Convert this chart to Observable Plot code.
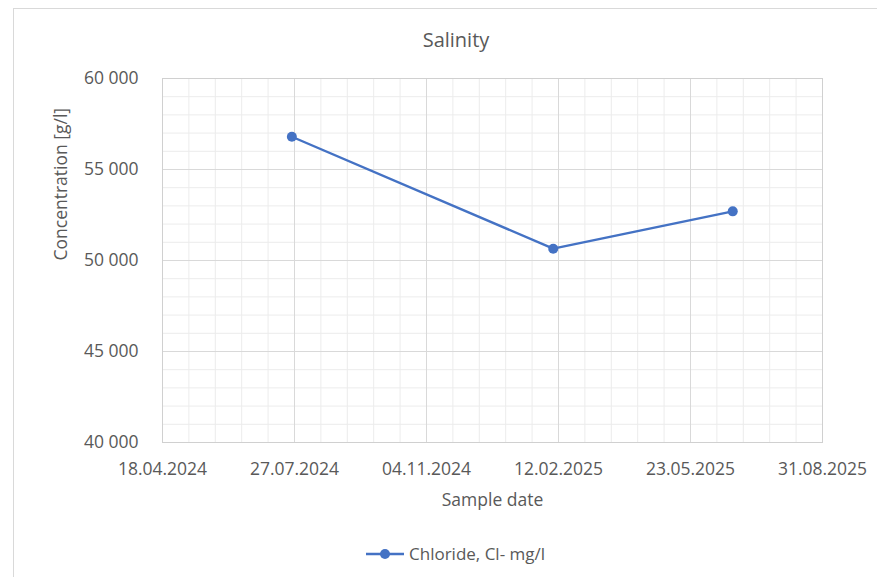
<!DOCTYPE html>
<html>
<head>
<meta charset="utf-8">
<script src="https://cdn.jsdelivr.net/npm/d3@7"></script>
<script src="https://cdn.jsdelivr.net/npm/@observablehq/plot@0.6"></script>
<style>
  html, body { margin: 0; padding: 0; background: #fff; }
  #wrap { position: relative; width: 877px; height: 577px; overflow: hidden; background: #fff; font-family: "Open Sans", sans-serif; color: #595959; }
  #border { position: absolute; left: 13px; top: 8px; width: 1000px; height: 1000px; border-left: 1px solid #d9d9d9; border-top: 1px solid #d9d9d9; }
  #chart { position: absolute; left: 0; top: 0; }
  #title { position: absolute; left: 0; top: 27px; width: 912px; text-align: center; font-size: 20px; line-height: 26px; }
  #legend { position: absolute; left: 365px; top: 543px; height: 22px; display: flex; align-items: center; font-size: 17px; line-height: 22px; white-space: nowrap; }
  #legend svg { margin-right: 4px; }
</style>
</head>
<body>
<div id="wrap">
  <div id="border"></div>
  <div id="chart"></div>
  <div id="title">Salinity</div>
  <div id="legend"></div>
</div>
<script>
// ---- data ----
const sampleDates = ["2024-07-25", "2025-02-08", "2025-06-24"];
const chlorideValues = [56800, 50650, 52700];
const seriesName = "Chloride, Cl- mg/l";
const xTickDates = ["2024-04-18", "2024-07-27", "2024-11-04", "2025-02-12", "2025-05-23", "2025-08-31"];
const yTickValues = [40000, 45000, 50000, 55000, 60000];
const yAxisLabel = "Concentration [g/l]";
const xAxisLabel = "Sample date";

const rows = sampleDates.map((d, i) => ({ date: new Date(d), value: chlorideValues[i] }));
const xMajor = xTickDates.map(d => new Date(d));
const xMinor = d3.utcDay.range(xMajor[0], d3.utcDay.offset(xMajor[xMajor.length - 1], 1), 20);
const yMinor = d3.range(40000, 60001, 1000);

const fmtDate = d3.utcFormat("%d.%m.%Y");
const locale = d3.formatLocale({ decimal: ",", thousands: "\u00a0", grouping: [3], currency: ["", ""] });
const fmtNum = locale.format(",.0f");

const colour = "#4472C4";
const textColour = "#595959";

const chart = Plot.plot({
  width: 877,
  height: 577,
  marginLeft: 162,
  marginRight: 55,
  marginTop: 78,
  marginBottom: 135,
  style: { background: "transparent", fontFamily: "Open Sans, sans-serif", fontSize: "17.5px", color: textColour },
  x: { type: "utc", domain: [xMajor[0], xMajor[xMajor.length - 1]] },
  y: { domain: [40000, 60000] },
  marks: [
    Plot.gridX(xMinor, { stroke: "#ececec", strokeOpacity: 1, strokeWidth: 1 }),
    Plot.gridY(yMinor, { stroke: "#ececec", strokeOpacity: 1, strokeWidth: 1 }),
    Plot.gridX(xMajor, { stroke: "#d9d9d9", strokeOpacity: 1, strokeWidth: 1 }),
    Plot.gridY(yTickValues, { stroke: "#d9d9d9", strokeOpacity: 1, strokeWidth: 1 }),
    Plot.frame({ stroke: "#d0d0d0", strokeWidth: 1 }),
    Plot.axisX({ ticks: xMajor, tickSize: 0, tickPadding: 20, tickFormat: fmtDate, fill: textColour, fontSize: 17.5, label: null }),
    Plot.axisY({ ticks: yTickValues, tickSize: 0, tickPadding: 24, tickFormat: fmtNum, fill: textColour, fontSize: 17.5, label: null }),
    Plot.text([xAxisLabel], { text: d => d, frameAnchor: "bottom", dy: 58, fill: textColour, fontSize: 17.5, lineAnchor: "middle" }),
    Plot.text([yAxisLabel], { text: d => d, frameAnchor: "left", dx: -101, rotate: -90, fill: textColour, fontSize: 17.5, lineAnchor: "middle" }),
    Plot.line(rows, { x: "date", y: "value", stroke: colour, strokeWidth: 2.4 }),
    Plot.dot(rows, { x: "date", y: "value", r: 5, fill: colour, stroke: "none" })
  ]
});
document.getElementById("chart").appendChild(chart);

// legend
const legend = document.getElementById("legend");
legend.innerHTML = `<svg width="40" height="12" viewBox="0 0 40 12"><line x1="1" y1="6" x2="39" y2="6" stroke="${colour}" stroke-width="2.4"/><circle cx="20" cy="6" r="5" fill="${colour}"/></svg><span>${seriesName}</span>`;
</script>
</body>
</html>
